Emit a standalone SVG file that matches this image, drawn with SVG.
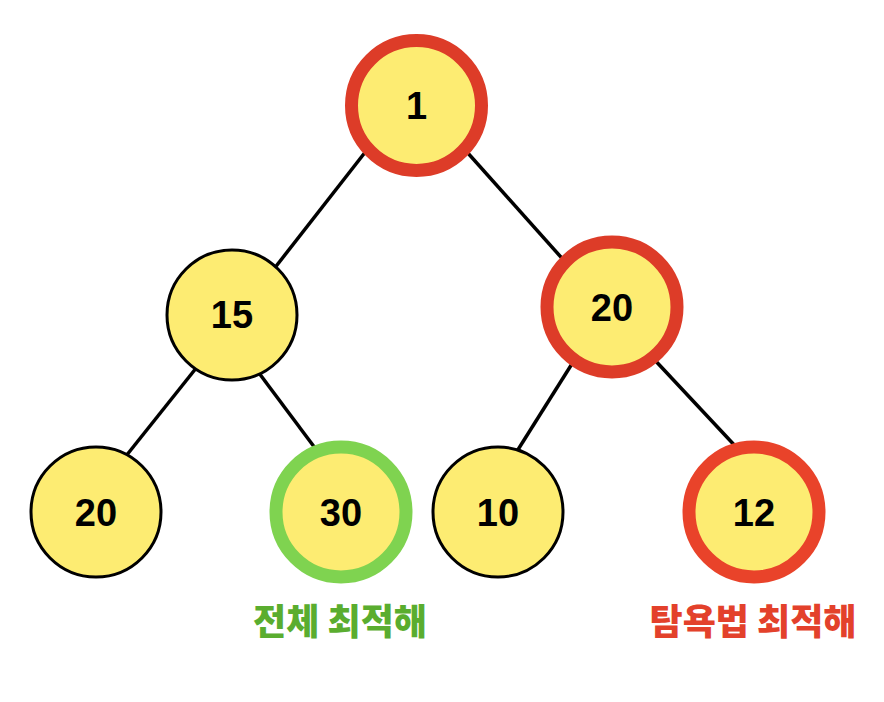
<svg xmlns="http://www.w3.org/2000/svg" width="884" height="702" viewBox="0 0 884 702">
<style>
.edge{stroke:#000;stroke-width:3.5;fill:none}
.n{fill:#fdec72;stroke:#000;stroke-width:3}
.red{fill:#fdec72;stroke:#dd3c28;stroke-width:13}
.red2{fill:#fdec72;stroke:#e9432a;stroke-width:13}
.green{fill:#fdec72;stroke:#7fd350;stroke-width:13}
.num{font-family:"Liberation Sans",Arial,sans-serif;font-weight:bold;font-size:38px;fill:#000;text-anchor:middle}
.lbl{font-family:"Noto Sans CJK KR","Noto Sans",sans-serif;font-weight:900;font-size:36px;text-anchor:middle}
</style>
<rect width="884" height="702" fill="#fff"/>
<g id="edges">
<line class="edge" x1="370" y1="146" x2="270" y2="274"/>
<line class="edge" x1="458" y1="142" x2="568" y2="265"/>
<line class="edge" x1="201" y1="362" x2="122" y2="461"/>
<line class="edge" x1="253" y1="365" x2="318" y2="452"/>
<line class="edge" x1="575" y1="359" x2="514" y2="456"/>
<line class="edge" x1="651" y1="356" x2="738" y2="449"/>
</g>
<g id="n1"><circle class="red" cx="416.5" cy="105.5" r="65"/><text class="num" x="416.5" y="119">1</text></g>
<g id="n15"><circle class="n" cx="232" cy="315" r="65"/><text class="num" x="232" y="328">15</text></g>
<g id="n20r"><circle class="red" cx="612" cy="307" r="65"/><text class="num" x="612" y="321">20</text></g>
<g id="n20l"><circle class="n" cx="96" cy="512" r="65"/><text class="num" x="96" y="526">20</text></g>
<g id="n30"><circle class="green" cx="341" cy="512" r="65"/><text class="num" x="341" y="526">30</text></g>
<g id="n10"><circle class="n" cx="498" cy="512" r="65"/><text class="num" x="498" y="526">10</text></g>
<g id="n12"><circle class="red2" cx="754" cy="512" r="65"/><text class="num" x="754" y="526">12</text></g>
<g id="labels">
<text class="lbl" x="340" y="635" fill="#5aad2f">전체 최적해</text>
<text class="lbl" x="753" y="635" fill="#e3412b">탐욕법 최적해</text>
</g>
</svg>
